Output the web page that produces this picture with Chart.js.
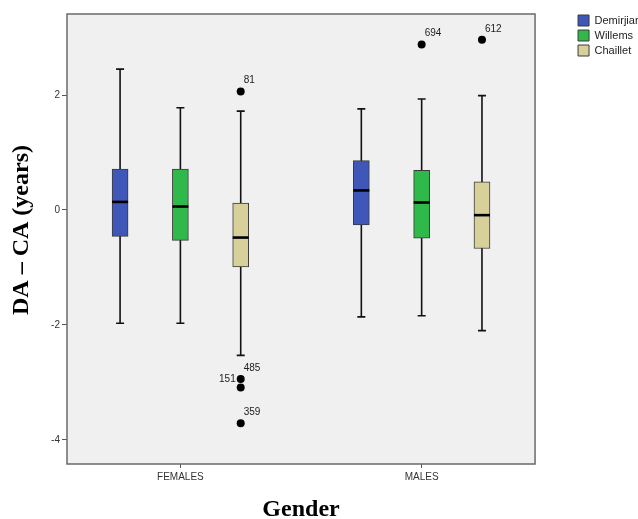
<!DOCTYPE html>
<html>
<head>
<meta charset="utf-8">
<title>DA - CA by gender</title>
<script src="https://cdn.jsdelivr.net/npm/chart.js@4.4.0/dist/chart.umd.min.js"></script>
<style>
    html, body { margin: 0; padding: 0; background: #ffffff; overflow: hidden; }
    #wrap { width: 638px; height: 519px; overflow: hidden; }
</style>
</head>
<body>
<div id="wrap"><canvas id="boxChart" width="651" height="519"></canvas></div>
<script>
// Groups on the x axis
const groups = ['FEMALES', 'MALES'];
const groupPos = [1, 2];

// Methods (one box per method in each group)
const methods = ['Demirjian', 'Willems', 'Chaillet'];
const methodColors = ['#3f57b9', '#2fb94b', '#d8d09b'];

// Box statistics, one row per method: [FEMALES, MALES]
const lowerWhisker = [[-1.97, -1.86], [-1.97, -1.84], [-2.53, -2.10]];
const q1 = [[-0.46, -0.26], [-0.53, -0.49], [-0.99, -0.67]];
const median = [[0.14, 0.34], [0.06, 0.13], [-0.48, -0.09]];
const q3 = [[0.71, 0.86], [0.71, 0.69], [0.12, 0.49]];
const upperWhisker = [[2.45, 1.76], [1.78, 1.93], [1.72, 1.99]];

// Outliers (case numbers as labels)
const outlierGroup = [0, 0, 0, 0, 1, 1];
const outlierMethod = [2, 2, 2, 2, 1, 2];
const outlierValue = [2.06, -2.94, -3.09, -3.71, 2.88, 2.96];
const outlierId = ['81', '485', '151', '359', '694', '612'];

const yTicks = [-4, -2, 0, 2];

// spacing of the boxes inside a group
const boxSpread = 0.25;
const methodX = (m, g) => groupPos[g] + (m - 1) * boxSpread;

const boxDatasets = methods.map((name, m) => ({
    type: 'bar',
    label: name,
    data: groupPos.map((g, i) => ({ x: methodX(m, i), y: [q1[m][i], q3[m][i]] })),
    backgroundColor: methodColors[m],
    borderColor: '#3a3a3a',
    borderWidth: 1,
    borderSkipped: false,
    barThickness: 16,
    grouped: false
}));

const outlierDataset = {
    type: 'scatter',
    label: 'outliers',
    data: outlierValue.map((v, k) => ({ x: methodX(outlierMethod[k], outlierGroup[k]), y: v })),
    backgroundColor: '#000000',
    borderWidth: 0,
    pointRadius: 4,
    pointHoverRadius: 4
};

// Draws plot background, whiskers, medians, frame and outlier labels
const boxPlotPlugin = {
    id: 'boxPlot',
    beforeDraw(chart) {
        const { ctx, chartArea: a } = chart;
        ctx.save();
        ctx.fillStyle = '#f0f0f0';
        ctx.fillRect(a.left, a.top, a.right - a.left, a.bottom - a.top);
        ctx.restore();
    },
    beforeDatasetsDraw(chart) {
        const { ctx } = chart;
        const xs = chart.scales.x, ys = chart.scales.y;
        ctx.save();
        ctx.strokeStyle = '#111111';
        ctx.lineWidth = 1.6;
        methods.forEach((name, m) => {
            groupPos.forEach((g, i) => {
                const x = xs.getPixelForValue(methodX(m, i));
                const yLo = ys.getPixelForValue(lowerWhisker[m][i]);
                const yHi = ys.getPixelForValue(upperWhisker[m][i]);
                ctx.beginPath();
                ctx.moveTo(x, yLo);
                ctx.lineTo(x, yHi);
                ctx.moveTo(x - 4, yLo);
                ctx.lineTo(x + 4, yLo);
                ctx.moveTo(x - 4, yHi);
                ctx.lineTo(x + 4, yHi);
                ctx.stroke();
            });
        });
        ctx.restore();
    },
    afterDatasetsDraw(chart) {
        const { ctx, chartArea: a } = chart;
        const ys = chart.scales.y;
        ctx.save();

        // medians
        ctx.strokeStyle = '#000000';
        ctx.lineWidth = 2.6;
        methods.forEach((name, m) => {
            chart.getDatasetMeta(m).data.forEach((bar, i) => {
                const y = ys.getPixelForValue(median[m][i]);
                ctx.beginPath();
                ctx.moveTo(bar.x - bar.width / 2, y);
                ctx.lineTo(bar.x + bar.width / 2, y);
                ctx.stroke();
            });
        });

        // frame
        ctx.strokeStyle = '#6a6a6a';
        ctx.lineWidth = 1.5;
        ctx.strokeRect(a.left, a.top, a.right - a.left, a.bottom - a.top);

        // outlier case labels
        ctx.fillStyle = '#222222';
        ctx.font = '10px "Liberation Sans", Arial, sans-serif';
        ctx.textBaseline = 'middle';
        chart.getDatasetMeta(methods.length).data.forEach((pt, k) => {
            if (outlierId[k] === '151') {
                ctx.textAlign = 'right';
                ctx.fillText(outlierId[k], pt.x - 5, pt.y - 8);
            } else {
                ctx.textAlign = 'left';
                ctx.fillText(outlierId[k], pt.x + 3, pt.y - 11);
            }
        });
        ctx.restore();
    }
};

const tickFont = { family: '"Liberation Sans", Arial, sans-serif', size: 10 };
const titleFont = { family: '"Liberation Serif", "Times New Roman", serif', size: 24, weight: 'bold', lineHeight: 1 };

new Chart(document.getElementById('boxChart'), {
    type: 'bar',
    data: { datasets: [...boxDatasets, outlierDataset] },
    options: {
        responsive: false,
        animation: false,
        events: [],
        layout: { padding: { top: 11, left: 0, right: 0, bottom: 0 } },
        plugins: {
            tooltip: { enabled: false },
            legend: {
                position: 'right',
                align: 'start',
                labels: {
                    boxWidth: 11,
                    boxHeight: 11,
                    padding: 4,
                    color: '#222222',
                    font: { family: '"Liberation Sans", Arial, sans-serif', size: 11 },
                    filter: item => item.datasetIndex < methods.length
                }
            }
        },
        scales: {
            x: {
                type: 'linear',
                min: 0.53,
                max: 2.47,
                offset: false,
                afterBuildTicks: s => { s.ticks = groupPos.map(v => ({ value: v })); },
                afterFit: s => { s.height = 55; },
                ticks: {
                    autoSkip: false,
                    maxRotation: 0,
                    padding: 3,
                    color: '#333333',
                    font: tickFont,
                    callback: v => groups[groupPos.indexOf(v)] || ''
                },
                grid: { offset: false, drawOnChartArea: false, drawTicks: true, tickLength: 4, color: '#555555' },
                border: { display: false },
                title: {
                    display: true,
                    text: 'Gender',
                    color: '#000000',
                    font: titleFont,
                    padding: { top: 0, bottom: -3 }
                }
            },
            xTop: {
                type: 'linear',
                position: 'top',
                display: true,
                ticks: { display: false },
                grid: { display: false },
                border: { display: false },
                afterFit: s => { s.height = 3; }
            },
            y: {
                type: 'linear',
                min: -4.42,
                max: 3.41,
                afterBuildTicks: s => { s.ticks = yTicks.map(v => ({ value: v })); },
                afterFit: s => { s.width = 67; },
                ticks: {
                    padding: 2,
                    color: '#333333',
                    font: tickFont,
                    callback: v => String(v)
                },
                grid: { drawOnChartArea: false, drawTicks: true, tickLength: 5, color: '#555555' },
                border: { display: false },
                title: {
                    display: true,
                    text: '   DA \u2013 CA (years)',
                    color: '#000000',
                    font: titleFont,
                    padding: { top: 10, bottom: 0 }
                }
            },
            yRight: {
                type: 'linear',
                position: 'right',
                display: true,
                ticks: { display: false },
                grid: { display: false },
                border: { display: false },
                afterFit: s => { s.width = 39; }
            }
        }
    },
    plugins: [boxPlotPlugin]
});
</script>
</body>
</html>
